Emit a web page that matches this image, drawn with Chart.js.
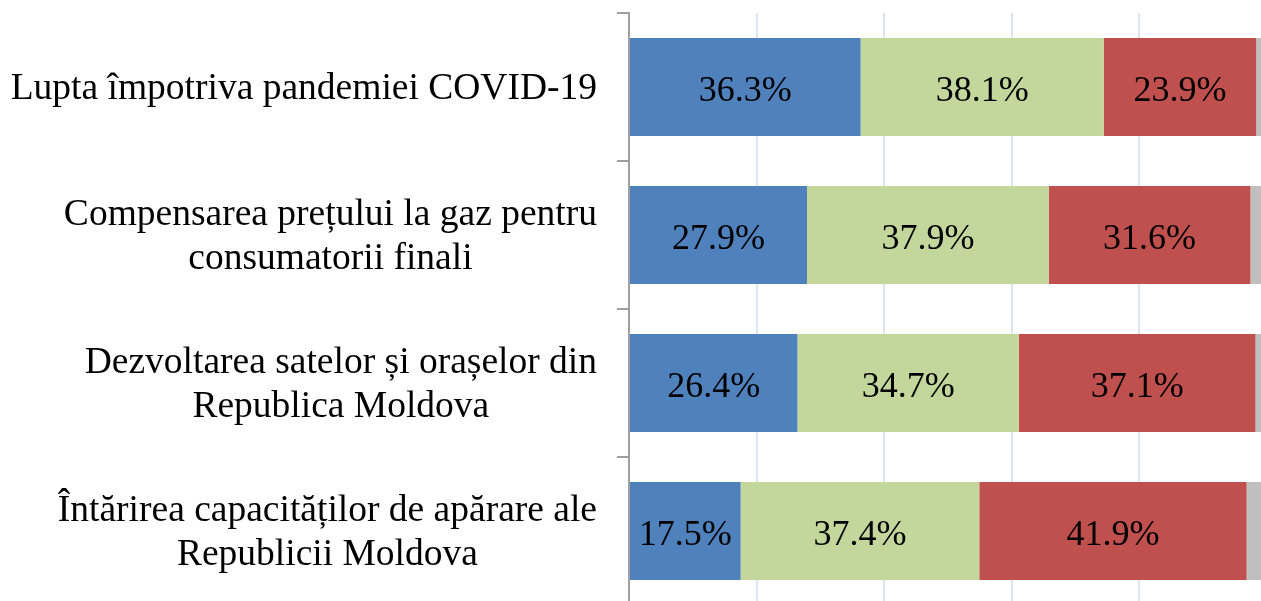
<!DOCTYPE html>
<html>
<head>
<meta charset="utf-8">
<script src="https://cdn.jsdelivr.net/npm/chart.js@4/dist/chart.umd.min.js"></script>
<style>
  html, body { margin: 0; padding: 0; overflow: hidden; background: #ffffff; }
  #wrap { width: 1267px; height: 605px; }
</style>
</head>
<body>
<div id="wrap"><canvas id="chart" width="1267" height="605"></canvas></div>
<script>
// Survey categories (multi-line labels)
const categories = [
  ['Lupta împotriva pandemiei COVID-19'],
  ['Compensarea prețului la gaz pentru', 'consumatorii finali'],
  ['Dezvoltarea satelor și orașelor din', 'Republica Moldova'],
  ['Întărirea capacităților de apărare ale', 'Republicii Moldova']
];

// Answer shares, in percent
const seriesBlue  = [36.3, 27.9, 26.4, 17.5];
const seriesGreen = [38.1, 37.9, 34.7, 37.4];
const seriesRed   = [23.9, 31.6, 37.1, 41.9];
const seriesGray  = [1.7, 2.6, 1.8, 3.2];

const colors = ['#4f81bd', '#c3d69b', '#c0504d', '#bfbfbf'];
const serif = '"Liberation Serif", "Times New Roman", serif';

// Writes the percentage in the middle of each labelled segment
const valueLabels = {
  id: 'valueLabels',
  afterDatasetsDraw(chart) {
    const ctx = chart.ctx;
    ctx.save();
    ctx.font = '36px ' + serif;
    ctx.fillStyle = '#000000';
    ctx.textAlign = 'center';
    ctx.textBaseline = 'alphabetic';
    chart.data.datasets.forEach((ds, di) => {
      if (!ds.showLabel) return;
      const meta = chart.getDatasetMeta(di);
      meta.data.forEach((bar, i) => {
        const cx = (bar.x + bar.base) / 2;
        ctx.fillText(ds.data[i].toFixed(1) + '%', cx, bar.y + 14);
      });
    });
    ctx.restore();
  }
};

// Category names: block right-aligned next to the axis, lines centred within it
const categoryLabels = {
  id: 'categoryLabels',
  afterDraw(chart) {
    const ctx = chart.ctx;
    const yScale = chart.scales.y;
    const right = chart.chartArea.left - 32;
    const lineGap = 43.5;
    ctx.save();
    ctx.font = '37.5px ' + serif;
    ctx.fillStyle = '#000000';
    ctx.textAlign = 'center';
    ctx.textBaseline = 'alphabetic';
    chart.data.labels.forEach((lines, i) => {
      const cy = yScale.getPixelForValue(i);
      const w = Math.max(...lines.map(l => ctx.measureText(l).width));
      const cx = right - w / 2;
      const first = cy + 12 - (lines.length - 1) * lineGap / 2;
      lines.forEach((l, k) => ctx.fillText(l, cx, first + k * lineGap));
    });
    ctx.restore();
  }
};

new Chart(document.getElementById('chart'), {
  type: 'bar',
  data: {
    labels: categories,
    datasets: [
      { data: seriesBlue,  backgroundColor: colors[0], showLabel: true },
      { data: seriesGreen, backgroundColor: colors[1], showLabel: true },
      { data: seriesRed,   backgroundColor: colors[2], showLabel: true },
      { data: seriesGray,  backgroundColor: colors[3], showLabel: false }
    ]
  },
  options: {
    indexAxis: 'y',
    responsive: false,
    animation: false,
    devicePixelRatio: 1,
    layout: { padding: { top: 13, left: 0, right: 0, bottom: 0 } },
    datasets: { bar: { categoryPercentage: 1, barPercentage: 0.662, borderWidth: 0 } },
    plugins: { legend: { display: false }, tooltip: { enabled: false } },
    scales: {
      x: {
        stacked: true,
        min: 0,
        max: 100,
        ticks: { display: false, stepSize: 20 },
        border: { display: false },
        grid: {
          drawTicks: false,
          lineWidth: 2,
          color: c => (c.tick && c.tick.value === 0) ? 'rgba(0,0,0,0)' : '#dce6f2'
        }
      },
      y: {
        stacked: true,
        afterFit(scale) {
          scale.width = 629;
          scale.paddingTop = 0;
          scale.paddingBottom = 0;
        },
        border: { display: true, color: '#a0a0a0', width: 2 },
        grid: {
          offset: true,
          drawOnChartArea: false,
          drawTicks: true,
          tickLength: 12,
          color: '#a0a0a0',
          lineWidth: 2
        },
        ticks: { display: false }
      }
    }
  },
  plugins: [valueLabels, categoryLabels]
});
</script>
</body>
</html>
